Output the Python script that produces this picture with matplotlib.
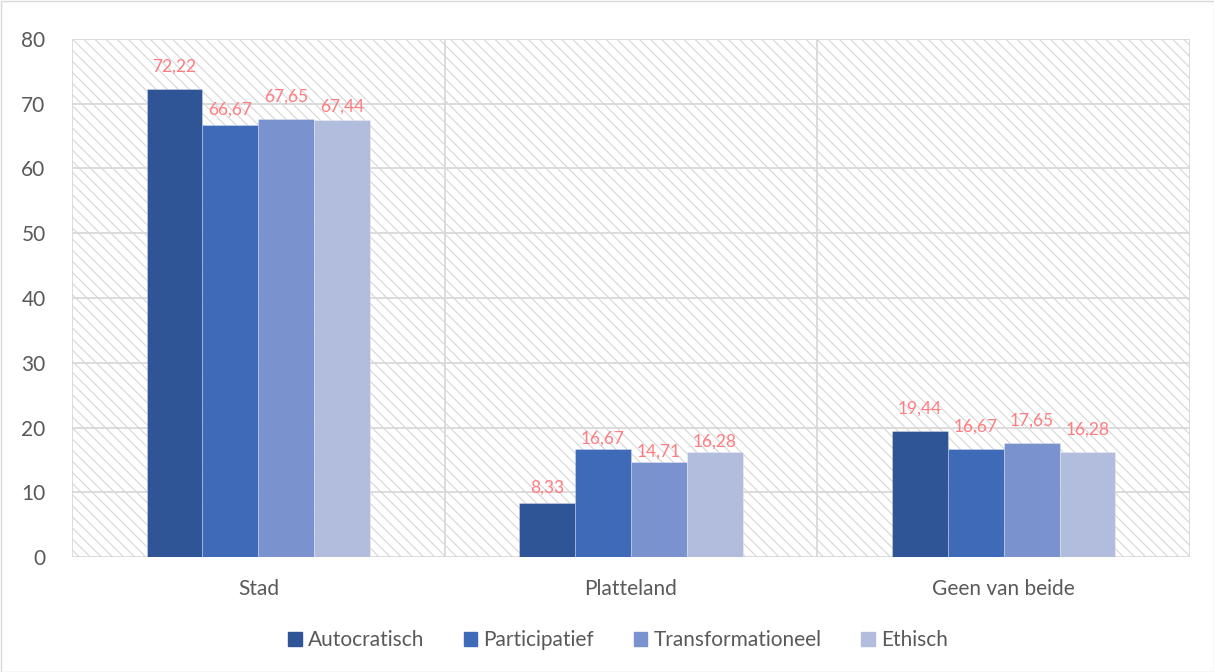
import matplotlib
matplotlib.use("Agg")
import matplotlib.pyplot as plt
import numpy as np
from matplotlib.patches import Rectangle

categories = ["Stad", "Platteland", "Geen van beide"]
series_names = ["Autocratisch", "Participatief", "Transformationeel", "Ethisch"]
autocratisch = [72.22, 8.33, 19.44]
participatief = [66.67, 16.67, 16.67]
transformationeel = [67.65, 14.71, 17.65]
ethisch = [67.44, 16.28, 16.28]
series_values = [autocratisch, participatief, transformationeel, ethisch]
colors = ["#2F5597", "#3F6AB8", "#7A92CD", "#B2BDDE"]
yticks = [0, 10, 20, 30, 40, 50, 60, 70, 80]
# label offsets above the bar top (pixels), as placed in the original to avoid overlaps
label_offsets = [[23, 15, 23], [16, 10, 22], [22, 10, 22], [14, 10, 22]]

plt.rcParams['font.family'] = ['Lato', 'DejaVu Sans']
plt.rcParams['hatch.linewidth'] = 0.8

fig = plt.figure(figsize=(12.14, 6.72), dpi=100)
ax = fig.add_axes([72/1214, 1-557/672, (1190-72)/1214, (557-39)/672])

grid_c = "#D9D9D9"
ax.set_xlim(0, 3)
ax.set_ylim(0, 80)
ax.set_facecolor("white")
bg = Rectangle((0, 0), 3, 80, facecolor="white", edgecolor="#D6D6D6",
               hatch="\\\\\\", linewidth=0, zorder=0)
ax.add_patch(bg)

for y in yticks:
    ax.axhline(y, color=grid_c, lw=1.3, zorder=1)
for x in [0, 1, 2, 3]:
    ax.axvline(x, color=grid_c, lw=1.3, zorder=1)

w = 0.15
centers = np.arange(len(categories)) + 0.5
for i, (name, vals, c) in enumerate(zip(series_names, series_values, colors)):
    xs = centers + (i - 1.5) * w
    ax.bar(xs, vals, width=w, color=c, label=name, zorder=3,
           edgecolor="#FFFFFF80", linewidth=0.4)
    for j, (x, v) in enumerate(zip(xs, vals)):
        ax.annotate(f"{v:.2f}".replace(".", ","), xy=(x, v),
                    xytext=(0, label_offsets[i][j] * 0.72), textcoords="offset points",
                    ha="center", va="center", color="#FF7C80", fontsize=12.5, zorder=4)

for s in ax.spines.values():
    s.set_visible(False)
ax.set_yticks(yticks)
ax.set_yticklabels([str(t) for t in yticks])
ax.set_xticks(centers)
ax.set_xticklabels(categories)
ax.tick_params(axis="both", length=0, colors="#595959", labelsize=15)
ax.tick_params(axis="y", pad=19)
ax.tick_params(axis="x", pad=16)

handles = [Rectangle((0, 0), 1, 1, color=c) for c in colors]
leg = fig.legend(handles, series_names, loc="center", bbox_to_anchor=(618/1214, 1-640/672),
                 ncol=4, frameon=False, fontsize=15, handlelength=0.65, handleheight=0.65,
                 handletextpad=0.3, columnspacing=1.9)
for t in leg.get_texts():
    t.set_color("#595959")

fig.add_artist(Rectangle((0.5/1214, 0.5/672), 1-1/1214, 1-1/672, transform=fig.transFigure,
                         fill=False, edgecolor="#D9D9D9", lw=1))

fig.savefig("out.png", dpi=100)
